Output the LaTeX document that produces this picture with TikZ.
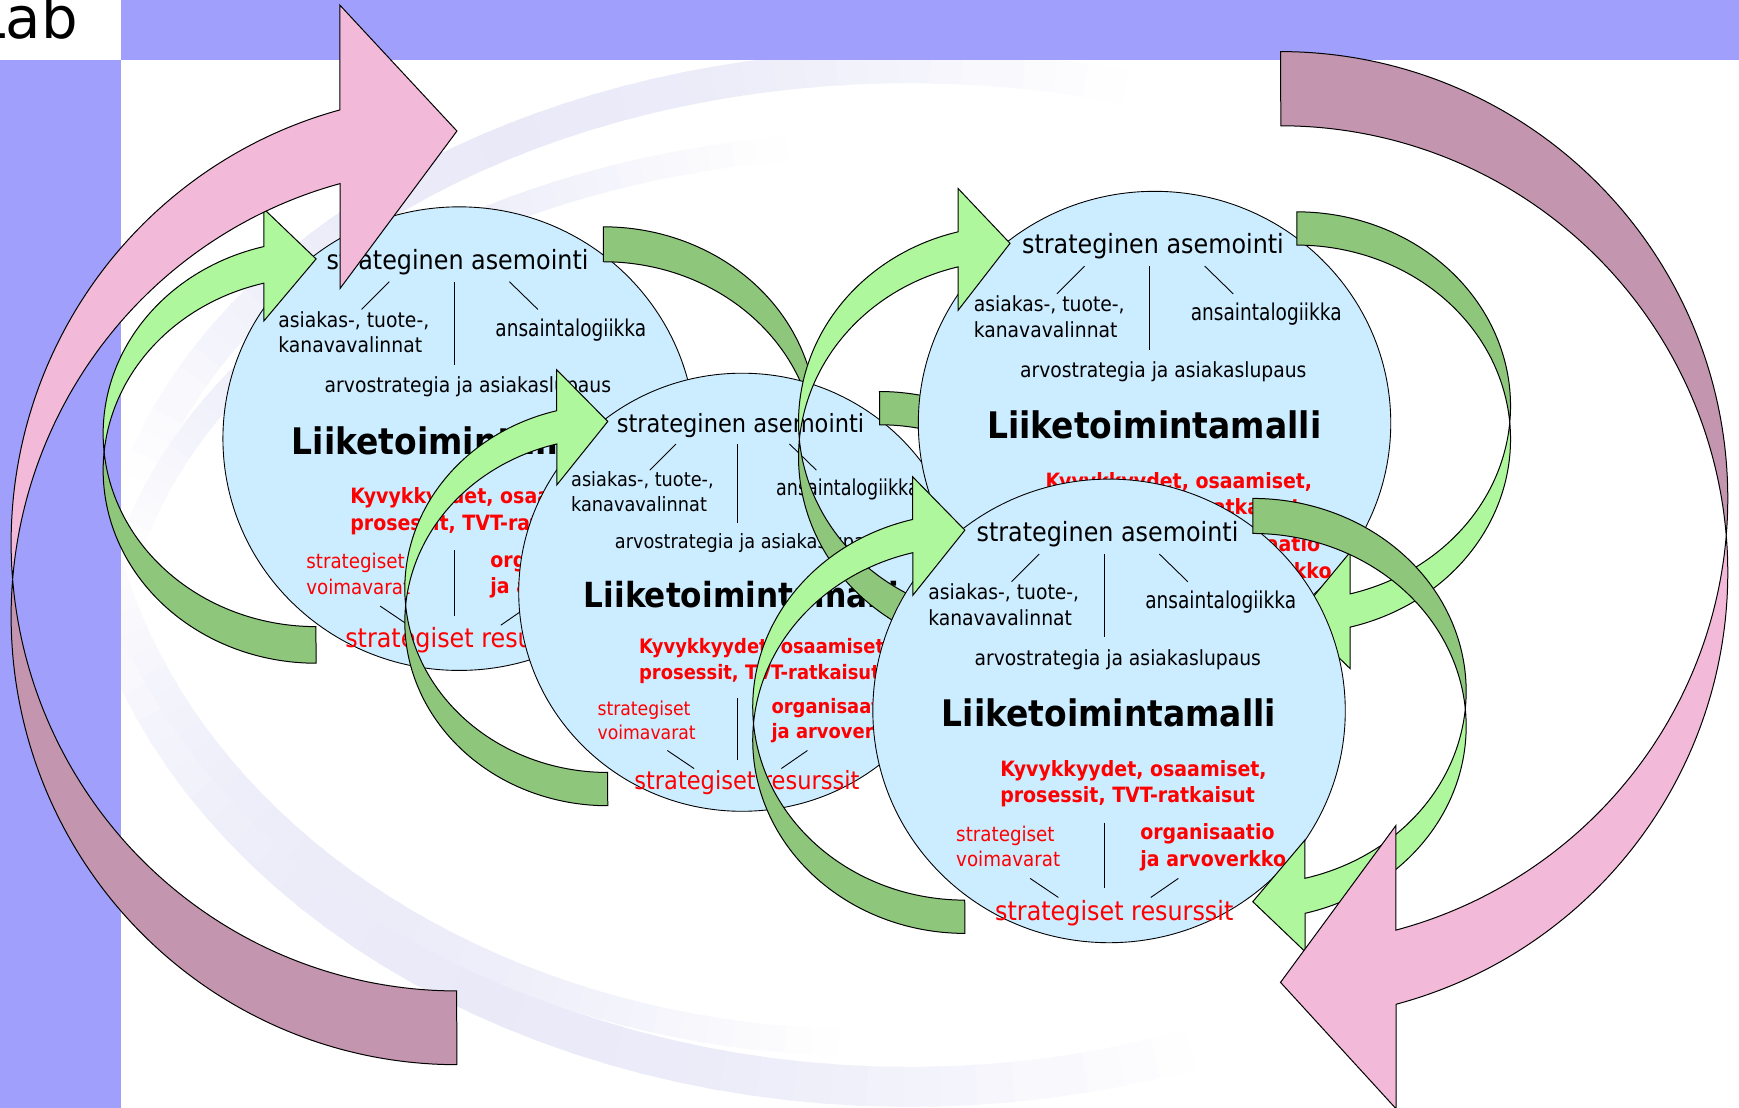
\documentclass[tikz,border=0pt]{standalone}
\usepackage{fontspec}
\setmainfont{DejaVu Sans}[FakeStretch=0.9]
\newfontfamily\ansfont{DejaVu Sans}[FakeStretch=0.8]
\newfontfamily\labfont{DejaVu Sans}
\usetikzlibrary{shapes.geometric}
\definecolor{circfill}{HTML}{CCECFF}
\definecolor{lgreen}{HTML}{AEF79C}
\definecolor{dgreen}{HTML}{8EC77B}
\definecolor{lpink}{HTML}{F3B9D8}
\definecolor{mauve}{HTML}{C495AE}
\definecolor{bandblue}{HTML}{A0A0FC}
\definecolor{swooshc}{HTML}{CFCFF0}
\tikzset{
  arrline/.style={draw=black, line width=0.9pt},
  circ/.style={ellipse, draw=black, line width=0.8pt, fill=circfill, minimum width=426pt, minimum height=418pt, inner sep=0pt},
  ttl/.style={font=\fontsize{23.9}{28}\selectfont, inner sep=0pt},
  sm/.style={font=\fontsize{18.8}{22}\selectfont, inner sep=0pt},
  ans/.style={font=\ansfont\fontsize{20.9}{24}\selectfont, inner sep=0pt},
  bigtitle/.style={font=\bfseries\fontsize{33}{38}\selectfont, inner sep=0pt},
  redb/.style={font=\bfseries\fontsize{19}{22}\selectfont, text=red, inner sep=0pt},
  redn/.style={font=\fontsize{18.3}{22}\selectfont, text=red, inner sep=0pt},
  redl/.style={font=\fontsize{23.9}{28}\selectfont, text=red, inner sep=0pt},
  tickline/.style={draw=black, line width=0.8pt},
}
% faint background swoosh fading at both ends: cx cy rx ry a0 a1 width maxtint
\newcommand\swooshArc[8]{%
  \foreach \si in {0,...,39}{%
    \pgfmathsetmacro\sa{#5+(#6-#5)*\si/40}%
    \pgfmathsetmacro\sb{#5+(#6-#5)*(\si+1.3)/40}%
    \pgfmathsetmacro\sop{#8*sin(180*(\si+0.5)/40)}%
    \draw[draw={swooshc!\sop!white}, line width=#7pt] plot[domain=\sa:\sb,samples=5,variable=\t] ({#1+#3*cos(\t)},{#2+#4*sin(\t)});
  }}
% business model circle: #1 name, #2 cx, #3 cy, #4 scale
\newcommand\bmodel[4]{%
\begin{scope}[shift={(#2,#3)},scale=#4,transform shape]
\node[circ] (#1) at (0,0) {};
\node[ttl,anchor=base] (#1-t) at (-1.4,-152.6) {strateginen asemointi};
\node[sm,anchor=base west] (#1-a1) at (-163.2,-100.6) {asiakas-, tuote-,};
\node[sm,anchor=base west] (#1-a2) at (-163.2,-77.4) {kanavavalinnat};
\node[ans,anchor=base west] (#1-an) at (32.5,-92.5) {ansaintalogiikka};
\node[sm,anchor=base west] (#1-ar) at (-121.4,-41.4) {arvostrategia ja asiakaslupaus};
\node[bigtitle,anchor=base] (#1-m) at (-0.2,14.3) {Liiketoimintamalli};
\node[redb,anchor=base west] (#1-k1) at (-98.3,58.7) {Kyvykkyydet, osaamiset,};
\node[redb,anchor=base west] (#1-k2) at (-98.3,82.8) {prosessit, TVT-ratkaisut};
\node[redn,anchor=base west] (#1-s1) at (-138,117.3) {strategiset};
\node[redn,anchor=base west] (#1-s2) at (-138,140.5) {voimavarat};
\node[redb,anchor=base west] (#1-o1) at (28,115.8) {organisaatio};
\node[redb,anchor=base west] (#1-o2) at (28,139.9) {ja arvoverkko};
\node[redl,anchor=base] (#1-r) at (4.7,188.6) {strategiset resurssit};
\draw[tickline] (-63,-141.5) -- (-88,-116.5);
\draw[tickline] (-4.2,-141.5) -- (-4.2,-66.3);
\draw[tickline] (45.3,-141.5) -- (71,-116.5);
\draw[tickline] (-4.2,100.8) -- (-4.2,160);
\draw[tickline] (-71.2,151) -- (-45.7,168.2);
\draw[tickline] (62.5,151) -- (37.6,168.2);
\end{scope}}
% curved arrow: #1 x, #2 y (tail outer corner), #3 rotation, #4 w, #5 hR, #6 th, #7 aw, #8 ah, #9 mode (0 full, 1 back part only)
\newcommand\cvarrow[9]{%
\begin{scope}[shift={(#1,#2)},rotate=#3]
  \pgfmathsetmacro\cW{#4}\pgfmathsetmacro\cR{#5}\pgfmathsetmacro\cT{#6}%
  \pgfmathsetmacro\cAW{#7}\pgfmathsetmacro\cAH{#8}%
  \pgfmathsetmacro\cDel{asin(\cT/(2*\cR))}%
  \pgfmathsetmacro\cBet{acos(\cAH/\cW)}%
  \pgfmathsetmacro\cDy{\cR*sin(\cBet)}%
  \pgfmathsetmacro\cDh{(\cAW-\cT)/2}%
  \pgfmathsetmacro\cA{180+\cDel}\pgfmathsetmacro\cB{180-\cDel}\pgfmathsetmacro\cC{180+\cBet}%
  \filldraw[arrline,fill=\cvD]
    plot[domain=0:1,samples=90,variable=\t] ({\cW*cos(90+(\cA-90)*\t)},{-\cR+\cR*sin(90+(\cA-90)*\t)})
    -- plot[domain=0:1,samples=90,variable=\t] ({\cW*cos(\cB+(90-\cB)*\t)},{-\cR-\cT+\cR*sin(\cB+(90-\cB)*\t)})
    -- cycle;
  \ifnum#9=0
  \filldraw[arrline,fill=\cvL]
    plot[domain=0:1,samples=90,variable=\t] ({\cW*cos(\cB+(\cC-\cB)*\t)},{-\cR-\cT+\cR*sin(\cB+(\cC-\cB)*\t)})
    -- ++(0,{-\cDh}) -- (0,{-2*\cR-\cT/2}) -- ({-\cAH},{-\cR-\cDy+\cDh})
    -- plot[domain=0:1,samples=90,variable=\t] ({\cW*cos(\cC+(\cA-\cC)*\t)},{-\cR+\cR*sin(\cC+(\cA-\cC)*\t)})
    -- cycle;
  \fi
\end{scope}}
\begin{document}
\begin{tikzpicture}[x=1pt,y=-1pt]
\useasboundingbox (0,0) rectangle (1568,999);
\clip (0,0) rectangle (1568,999);
\fill[white] (0,0) rectangle (1568,999);
% slide template: faint swooshes, then bands
\swooshArc{820}{560}{720}{500}{195}{285}{30}{45}
\swooshArc{800}{600}{700}{470}{192}{262}{22}{40}
\swooshArc{820}{420}{740}{560}{70}{172}{36}{45}
\swooshArc{780}{380}{700}{560}{92}{170}{24}{40}
\fill[bandblue] (108.7,0) rectangle (1568,54);
\fill[bandblue] (0,54) rectangle (108.7,999);
\node[anchor=base west, inner sep=0pt, font=\labfont\fontsize{52}{60}\selectfont] (lab) at (-24,34.6) {Lab};
% circle 1 and its arrows
\bmodel{m1}{414}{395.5}{1}
\def\cvL{lgreen}\def\cvD{dgreen}
\cvarrow{285}{598}{0}{192}{174}{33}{101}{47}{0}
\cvarrow{544}{204.5}{180}{192}{174}{31.5}{101}{47}{0}
% circle 2
\bmodel{m2}{669}{534}{0.945}
\cvarrow{548}{726.5}{0}{183}{165.75}{30}{104}{46}{0}
\cvarrow{793}{353}{180}{183}{165.75}{30}{104}{46}{1}
% circle 3
\bmodel{m3}{1041}{381.5}{1}
\cvarrow{910.7}{589.2}{0}{190.7}{177}{31.6}{109.7}{46.7}{0}
\cvarrow{1169.3}{191}{180}{192.7}{175}{30}{105}{48}{0}
% circle 4
\bmodel{m4}{1000}{641}{1}
\cvarrow{870}{841.6}{0}{191.3}{174.3}{30}{107}{47}{0}
\cvarrow{1129.6}{449.4}{180}{192.4}{173.9}{31.6}{100.6}{47}{0}
% big pink arrows
\def\cvL{lpink}\def\cvD{mauve}
\cvarrow{412}{960}{0}{402}{404.3}{66.5}{255.5}{105.3}{0}
\cvarrow{1154.6}{46.5}{180}{403.3}{402.9}{66.9}{255.5}{104}{0}
\end{tikzpicture}
\end{document}
